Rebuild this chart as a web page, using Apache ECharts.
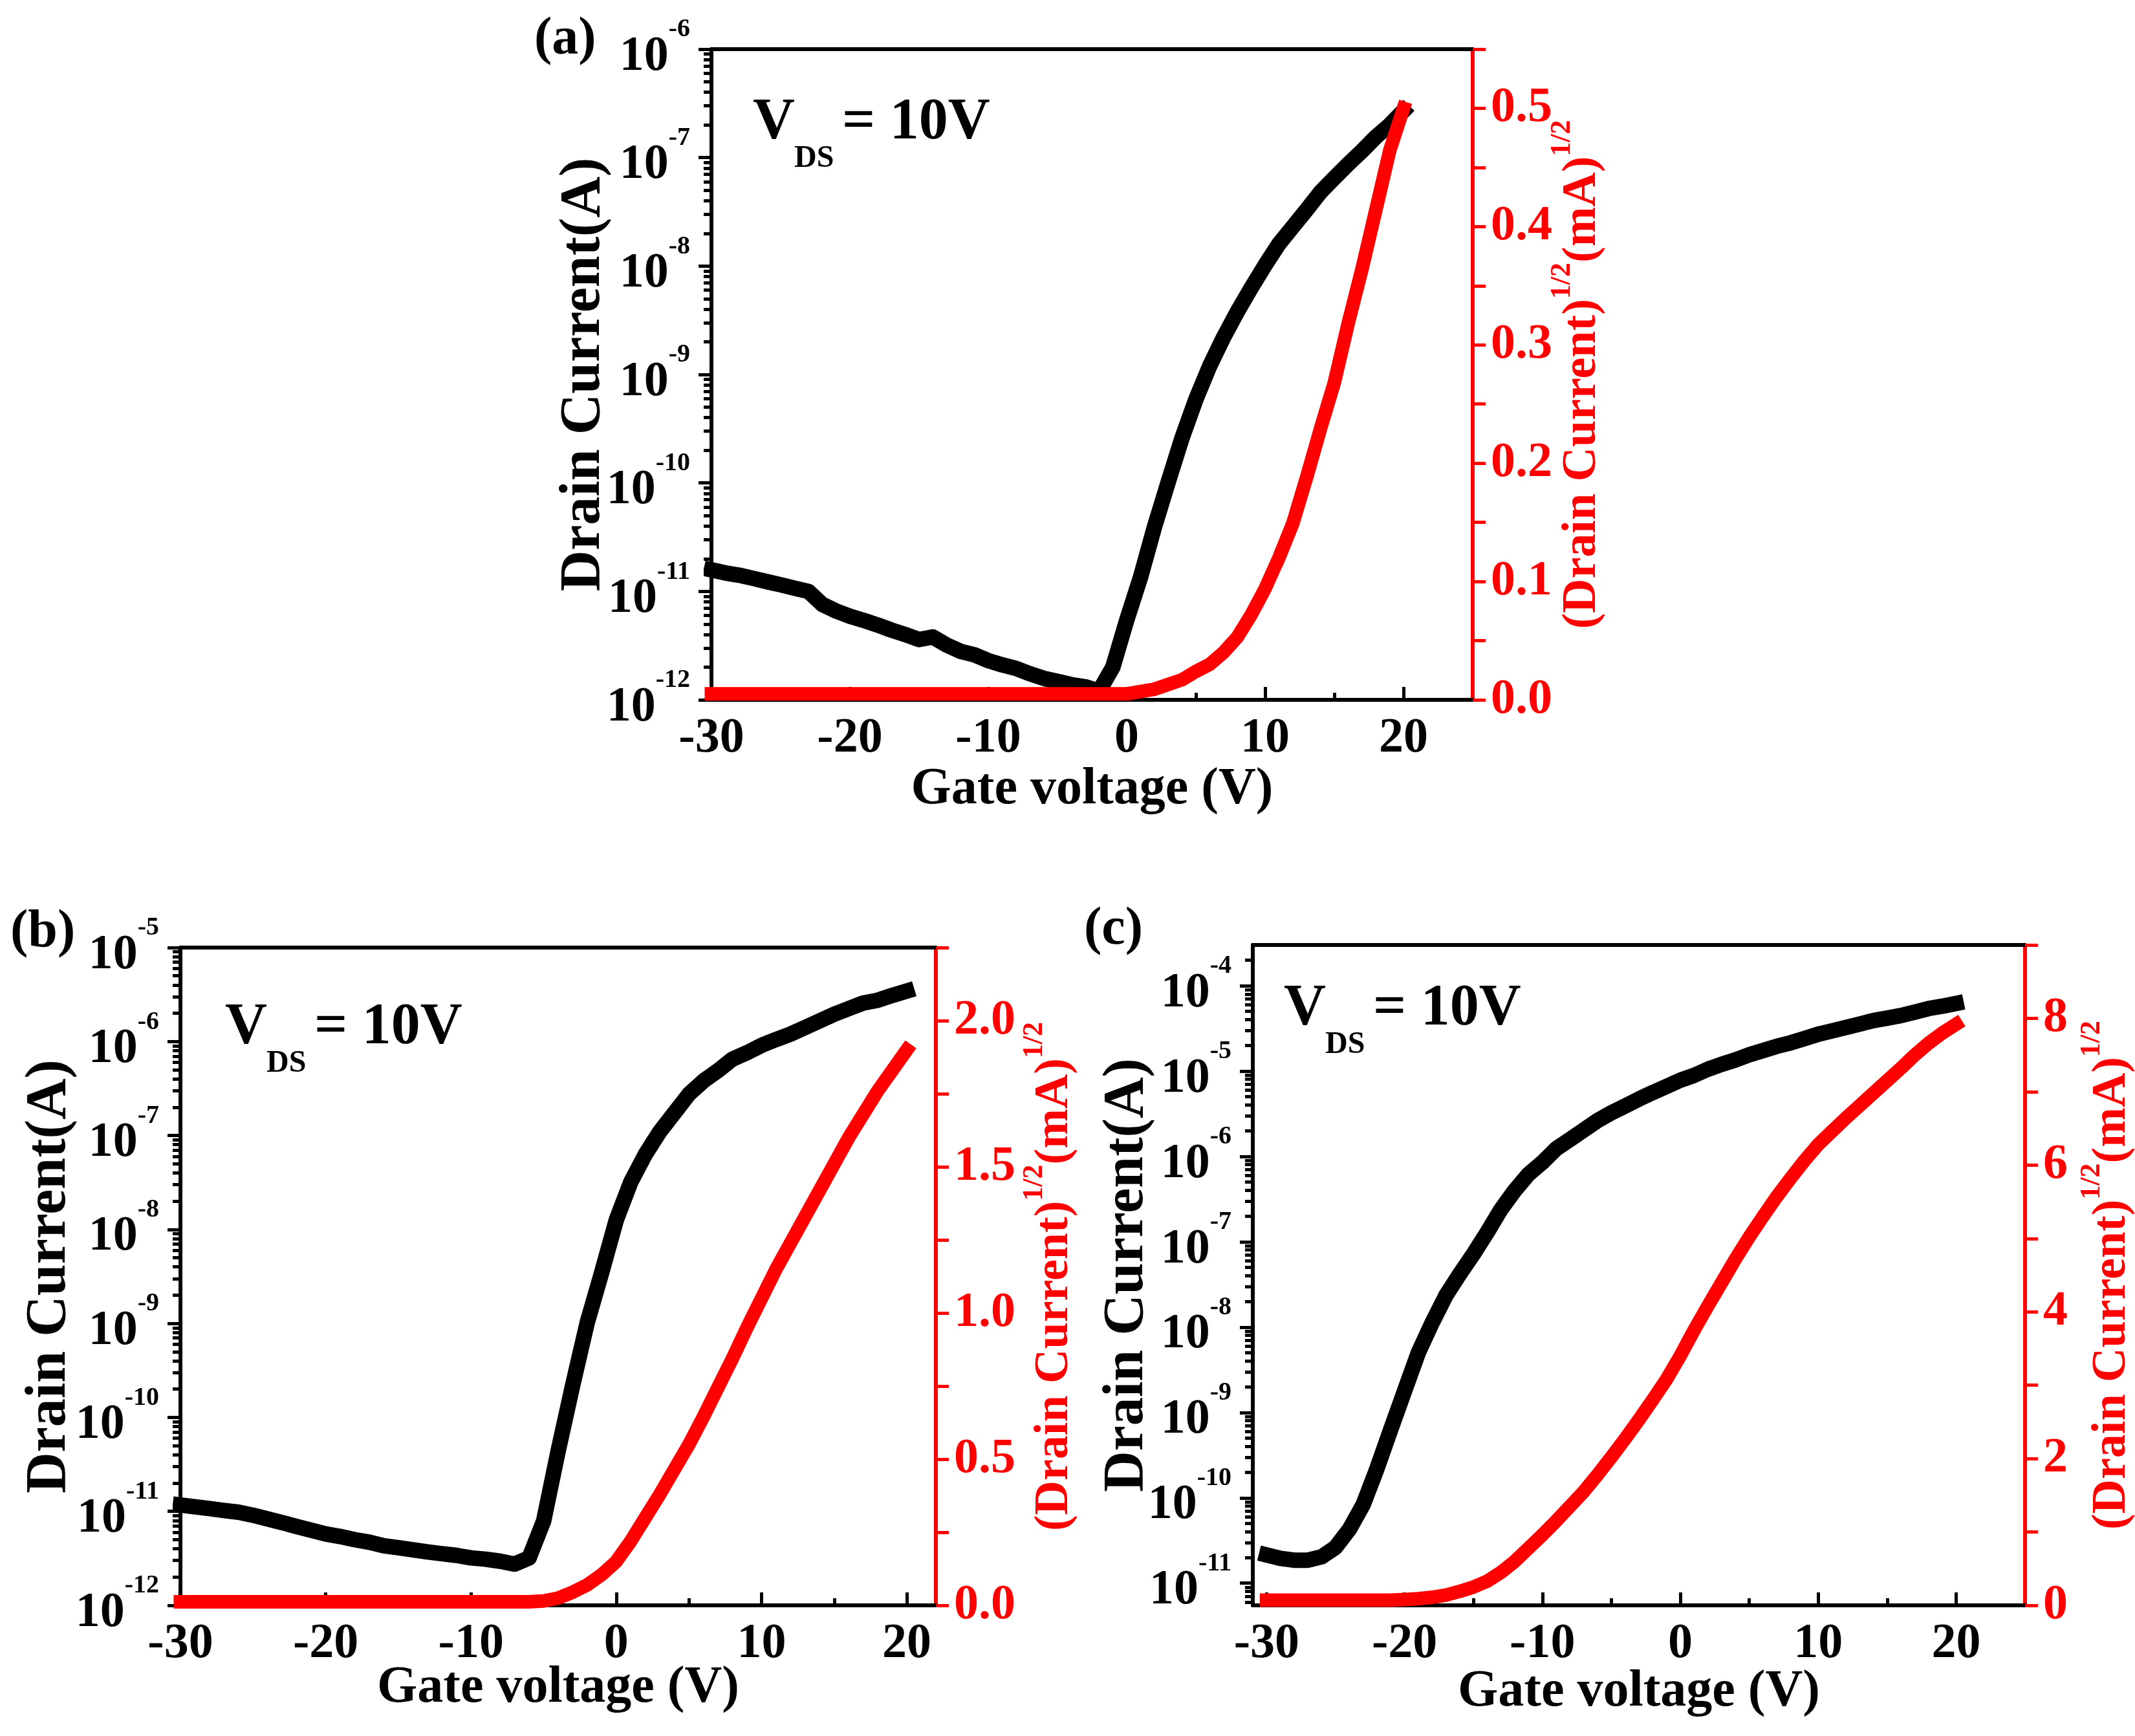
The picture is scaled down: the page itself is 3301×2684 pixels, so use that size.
<!DOCTYPE html>
<html>
<head>
<meta charset="utf-8">
<script src="https://cdn.jsdelivr.net/npm/echarts@6/dist/echarts.min.js"></script>
<style>
  html, body { margin: 0; padding: 0; background: #fff; }
  #chart_container { width: 3301px; height: 2684px; }
</style>
</head>
<body>
<div id="chart_container"></div>
<script>
"use strict";

// gate voltage sweep shared by the three panels (V)
const gateV = [-30,-29,-28,-27,-26,-25,-24,-23,-22,-21,
               -20,-19,-18,-17,-16,-15,-14,-13,-12,-11,
               -10,-9,-8,-7,-6,-5,-4,-3,-2,-1,
               0,1,2,3,4,5,6,7,8,9,
               10,11,12,13,14,15,16,17,18,19,20];

// (a) drain current (A) and (drain current)^1/2
const idA = [1.58e-11,1.48e-11,1.41e-11,1.32e-11,1.23e-11,1.15e-11,1.07e-11,1.0e-11,7.6e-12,6.6e-12,
             5.9e-12,5.4e-12,4.9e-12,4.4e-12,4.0e-12,3.6e-12,3.8e-12,3.2e-12,2.8e-12,2.6e-12,
             2.3e-12,2.1e-12,1.95e-12,1.74e-12,1.58e-12,1.48e-12,1.38e-12,1.32e-12,1.2e-12,2.0e-12,
             5.4e-12,1.35e-11,3.9e-11,1.02e-10,2.6e-10,5.9e-10,1.2e-9,2.2e-9,3.8e-9,6.3e-9,
             1.02e-8,1.6e-8,2.3e-8,3.3e-8,4.8e-8,6.5e-8,8.7e-8,1.15e-7,1.55e-7,2.0e-7,2.7e-7];
const sqrtA = [0.005,0.005,0.005,0.005,0.005,0.005,0.005,0.005,0.005,0.005,
               0.005,0.005,0.005,0.005,0.005,0.005,0.005,0.005,0.005,0.005,
               0.005,0.005,0.005,0.005,0.005,0.005,0.005,0.005,0.005,0.005,
               0.005,0.007,0.009,0.013,0.017,0.024,0.030,0.040,0.053,0.072,
               0.094,0.120,0.149,0.188,0.229,0.268,0.318,0.364,0.414,0.464,0.500];

// (b)
const idB = [1.17e-11,1.12e-11,1.07e-11,1.02e-11,9.8e-12,9.1e-12,8.3e-12,7.6e-12,6.9e-12,6.3e-12,
             5.75e-12,5.4e-12,5.0e-12,4.7e-12,4.3e-12,4.1e-12,3.9e-12,3.7e-12,3.55e-12,3.4e-12,
             3.2e-12,3.1e-12,2.95e-12,2.75e-12,3.2e-12,7.9e-12,4.4e-11,2.2e-10,1.02e-9,3.5e-9,
             1.26e-8,3.2e-8,6.3e-8,1.1e-7,1.74e-7,2.75e-7,3.8e-7,4.9e-7,6.5e-7,7.6e-7,
             9.1e-7,1.05e-6,1.2e-6,1.41e-6,1.66e-6,1.95e-6,2.24e-6,2.57e-6,2.75e-6,3.1e-6,3.45e-6];
const sqrtB = [0.012,0.012,0.012,0.012,0.012,0.012,0.012,0.012,0.012,0.012,
               0.012,0.012,0.012,0.012,0.012,0.012,0.012,0.012,0.012,0.012,
               0.012,0.012,0.012,0.012,0.012,0.015,0.025,0.045,0.07,0.105,
               0.15,0.22,0.30,0.38,0.465,0.55,0.645,0.745,0.845,0.95,
               1.05,1.15,1.24,1.33,1.42,1.51,1.60,1.68,1.76,1.83,1.90];

// (c)
const idC = [2.14e-11,1.95e-11,1.86e-11,1.86e-11,2.04e-11,2.63e-11,4.27e-11,8.3e-11,2.19e-10,6.3e-10,
             1.78e-9,5.0e-9,1.12e-8,2.34e-8,4.17e-8,7.2e-8,1.29e-7,2.4e-7,4.0e-7,6.2e-7,
             8.5e-7,1.23e-6,1.58e-6,2.04e-6,2.63e-6,3.24e-6,3.9e-6,4.7e-6,5.6e-6,6.6e-6,
             7.8e-6,8.9e-6,1.05e-5,1.2e-5,1.35e-5,1.55e-5,1.74e-5,1.95e-5,2.14e-5,2.4e-5,
             2.7e-5,2.95e-5,3.24e-5,3.55e-5,3.9e-5,4.17e-5,4.47e-5,4.9e-5,5.4e-5,5.75e-5,6.2e-5];
const sqrtC = [0.07,0.07,0.07,0.07,0.07,0.07,0.07,0.07,0.07,0.07,
               0.08,0.09,0.11,0.14,0.19,0.25,0.33,0.45,0.60,0.78,
               0.96,1.15,1.35,1.55,1.78,2.02,2.27,2.53,2.80,3.08,
               3.40,3.75,4.08,4.40,4.72,5.02,5.30,5.57,5.82,6.06,
               6.28,6.46,6.64,6.81,6.98,7.15,7.32,7.50,7.66,7.80,7.92];

// tick values
const xMajor = [-30,-20,-10,0,10,20];
const xMinor = [-25,-15,-5,5,15];
const rTicksA = [0,0.05,0.1,0.15,0.2,0.25,0.3,0.35,0.4,0.45,0.5,0.55];
const rLabelsA = [0,0.1,0.2,0.3,0.4,0.5];
const rTicksB = [0,0.25,0.5,0.75,1,1.25,1.5,1.75,2,2.25];
const rLabelsB = [0,0.5,1,1.5,2];
const rTicksC = [0,1,2,3,4,5,6,7,8,9];
const rLabelsC = [0,2,4,6,8];

const FONT = 'Liberation Serif';
const RED = '#ff0000';

const panels = [
    { tag: '(a)', grid: { left: 1100, top: 76, width: 1177, height: 1006 },
      xMin: -30, xMax: 25, yMin: 1e-12, yMax: 1e-6,
      id: idA, sq: sqrtA, rMax: 0.55, rTicks: rTicksA, rLabels: rLabelsA, rDec: 1,
      xGap: 99, lGap: 153, rGap: 117,
      tagPos: [826, 21], vdsPos: [1164, 168] },
    { tag: '(b)', grid: { left: 279, top: 1465, width: 1168, height: 1017 },
      xMin: -30, xMax: 22, yMin: 1e-12, yMax: 1e-5,
      id: idB, sq: sqrtB, rMax: 2.25, rTicks: rTicksB, rLabels: rLabelsB, rDec: 1,
      xGap: 88, lGap: 158, rGap: 131,
      tagPos: [16, 1401], vdsPos: [348, 1567] },
    { tag: '(c)', grid: { left: 1937, top: 1461, width: 1194, height: 1021 },
      xMin: -31, xMax: 25, yMin: 5.5e-12, yMax: 3e-4,
      id: idC, sq: sqrtC, rMax: 9, rTicks: rTicksC, rLabels: rLabelsC, rDec: 0,
      xGap: 94, lGap: 150, rGap: 82,
      tagPos: [1676, 1397], vdsPos: [1985, 1538] }
];

// decade and 2..9 sub-decade positions on a log10 scale
let logTicks = (lo, hi) => {
    const major = [], minor = [];
    for (let n = Math.floor(lo); n <= Math.ceil(hi); n++) {
        if (n >= lo - 1e-9 && n <= hi + 1e-9) major.push(n);
        for (let k = 2; k <= 9; k++) {
            const v = n + Math.log10(k);
            if (v > lo && v < hi) minor.push(v);
        }
    }
    return { major, minor };
};

const txt = (size, color) => ({ fontFamily: FONT, fontWeight: 'bold', fontSize: size, color: color });
const gtxt = (text, x, y, size) => ({
    type: 'text', left: x, top: y,
    style: { text: text, fontFamily: FONT, fontWeight: 'bold', fontSize: size, fill: '#000' }
});
const line = (color, width) => ({ show: true, onZero: false, lineStyle: { color: color, width: width } });
const ticks = (values, length, inside, color) => ({
    show: true, inside: inside, length: length, customValues: values,
    lineStyle: { color: color, width: 5 }
});
const hidden = { show: false };

const grids = [], xAxes = [], yAxes = [], series = [], graphics = [];

panels.forEach((p, g) => {
    grids.push(Object.assign({ show: false, outerBoundsMode: 'none', containLabel: false }, p.grid));
    const lo = Math.log10(p.yMin), hi = Math.log10(p.yMax);
    const lt = logTicks(lo, hi);

    // bottom axis with labels, bottom minor ticks, top frame line
    xAxes.push({
        gridIndex: g, type: 'value', position: 'bottom', min: p.xMin, max: p.xMax,
        axisLine: line('#000', 6),
        axisTick: ticks(xMajor, 20, true, '#000'),
        axisLabel: Object.assign({ show: true, customValues: xMajor, margin: 22, lineHeight: 76 }, txt(76, '#000')),
        splitLine: hidden, minorTick: hidden,
        name: 'Gate voltage (V)', nameLocation: 'middle', nameGap: p.xGap, nameMoveOverlap: false,
        nameTextStyle: Object.assign({ lineHeight: 80 }, txt(80, '#000'))
    });
    xAxes.push({
        gridIndex: g, type: 'value', position: 'bottom', min: p.xMin, max: p.xMax,
        axisLine: { show: false, onZero: false },
        axisTick: ticks(xMinor, 11, true, '#000'),
        axisLabel: hidden, splitLine: hidden
    });
    xAxes.push({
        gridIndex: g, type: 'value', position: 'top', min: p.xMin, max: p.xMax,
        axisLine: line('#000', 6),
        axisTick: hidden, axisLabel: hidden, splitLine: hidden
    });

    // left log current axis, its sub-decade ticks, right red sqrt axis
    yAxes.push({
        gridIndex: g, type: 'value', position: 'left', min: lo, max: hi,
        axisLine: line('#000', 6),
        axisTick: ticks(lt.major, 20, false, '#000'),
        axisLabel: {
            show: true, customValues: lt.major, margin: 33,
            formatter: (v) => '{b|10}{s|' + Math.round(v) + '}',
            rich: {
                b: Object.assign({ lineHeight: 100, verticalAlign: 'bottom' }, txt(76, '#000')),
                s: Object.assign({ lineHeight: 42, verticalAlign: 'top' }, txt(40, '#000'))
            }
        },
        splitLine: hidden,
        name: 'Drain Current(A)', nameLocation: 'middle', nameRotate: 90, nameGap: p.lGap,
        nameMoveOverlap: false,
        nameTextStyle: Object.assign({ lineHeight: 88 }, txt(88, '#000'))
    });
    yAxes.push({
        gridIndex: g, type: 'value', position: 'left', min: lo, max: hi,
        axisLine: { show: false, onZero: false },
        axisTick: ticks(lt.minor, 12, false, '#000'),
        axisLabel: hidden, splitLine: hidden
    });
    yAxes.push({
        gridIndex: g, type: 'value', position: 'right', min: 0, max: p.rMax,
        axisLine: line(RED, 6),
        axisTick: ticks(p.rTicks, 20, false, RED),
        axisLabel: Object.assign({
            show: true, customValues: p.rLabels, margin: 28,
            formatter: (v) => v.toFixed(p.rDec)
        }, txt(76, RED)),
        splitLine: hidden,
        name: '{t|(Drain Current)}{s|1/2}{t|(mA)}{s|1/2}',
        nameLocation: 'middle', nameRotate: 90, nameGap: p.rGap, nameMoveOverlap: false,
        nameTextStyle: {
            rich: {
                t: Object.assign({ lineHeight: 90, verticalAlign: 'bottom' }, txt(74, RED)),
                s: Object.assign({ lineHeight: 44, verticalAlign: 'top' }, txt(44, RED))
            }
        }
    });

    const lineBase = { type: 'line', showSymbol: false, symbol: 'none', silent: true, animation: false };
    series.push(Object.assign({}, lineBase, {
        name: 'Id ' + p.tag, xAxisIndex: 3 * g, yAxisIndex: 3 * g,
        data: gateV.map((v, i) => [v, Math.log10(p.id[i])]),
        lineStyle: { color: '#000', width: 24, cap: 'square', join: 'round' }, z: 3
    }));
    series.push(Object.assign({}, lineBase, {
        name: 'sqrt Id ' + p.tag, xAxisIndex: 3 * g, yAxisIndex: 3 * g + 2,
        data: gateV.map((v, i) => [v, p.sq[i]]),
        lineStyle: { color: RED, width: 21, cap: 'square', join: 'round' }, z: 4
    }));

    // panel tag and V_DS note (V, subscript DS, "= 10V")
    graphics.push(gtxt(p.tag, p.tagPos[0], p.tagPos[1], 82));
    const vx = p.vdsPos[0], vy = p.vdsPos[1];
    graphics.push(gtxt('V', vx, vy - 22, 90));
    graphics.push(gtxt('DS', vx + 64, vy + 54, 48));
    graphics.push(gtxt('= 10V', vx + 138, vy - 22, 90));
});

const optEchart = {
    backgroundColor: '#fff',
    animation: false,
    grid: grids,
    xAxis: xAxes,
    yAxis: yAxes,
    series: series,
    graphic: graphics
};

let pageLoaded = () => {
    const chartDom = document.getElementById('chart_container');
    const myChart = echarts.init(chartDom, null, { renderer: 'canvas' });
    myChart.setOption(optEchart);
};

window.addEventListener('load', pageLoaded, false);
</script>
</body>
</html>
